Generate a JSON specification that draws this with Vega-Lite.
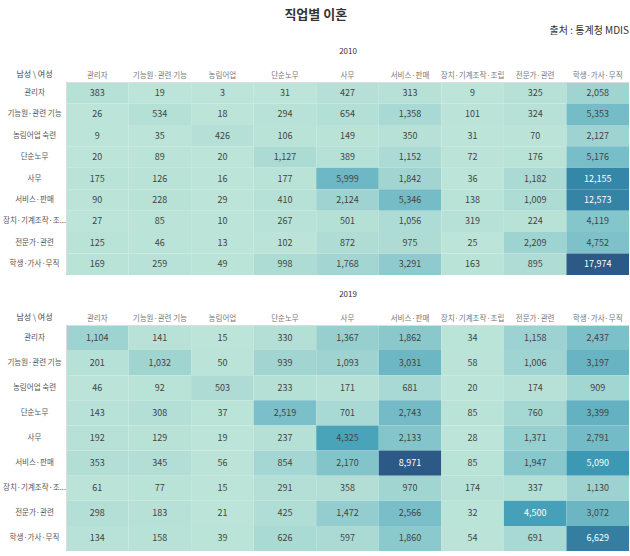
{
  "$schema": "https://vega.github.io/schema/vega-lite/v6.json",
  "padding": {"left": 2, "right": 2, "top": 9, "bottom": 2},
  "background": "#ffffff",
  "config": {
    "font": "Noto Sans CJK KR",
    "view": {"stroke": null},
    "concat": {"spacing": 15}
  },
  "title": {"text": "직업별 이혼", "anchor": "middle", "fontSize": 13, "fontWeight": "bold", "color": "#333333", "font": "Noto Sans CJK KR", "offset": 4},
  "resolve": {"scale": {"color": "independent", "x": "independent", "y": "independent"}},
  "datasets": {
    "d2010": [
      {"male":"관리자","female":"관리자","count":383},{"male":"관리자","female":"기능원·관련 기능","count":19},{"male":"관리자","female":"농림어업","count":3},{"male":"관리자","female":"단순노무","count":31},{"male":"관리자","female":"사무","count":427},{"male":"관리자","female":"서비스·판매","count":313},{"male":"관리자","female":"장치·기계조작·조립","count":9},{"male":"관리자","female":"전문가·관련","count":325},{"male":"관리자","female":"학생·가사·무직","count":2058},
      {"male":"기능원·관련 기능","female":"관리자","count":26},{"male":"기능원·관련 기능","female":"기능원·관련 기능","count":534},{"male":"기능원·관련 기능","female":"농림어업","count":18},{"male":"기능원·관련 기능","female":"단순노무","count":294},{"male":"기능원·관련 기능","female":"사무","count":654},{"male":"기능원·관련 기능","female":"서비스·판매","count":1358},{"male":"기능원·관련 기능","female":"장치·기계조작·조립","count":101},{"male":"기능원·관련 기능","female":"전문가·관련","count":324},{"male":"기능원·관련 기능","female":"학생·가사·무직","count":5353},
      {"male":"농림어업 숙련","female":"관리자","count":9},{"male":"농림어업 숙련","female":"기능원·관련 기능","count":35},{"male":"농림어업 숙련","female":"농림어업","count":426},{"male":"농림어업 숙련","female":"단순노무","count":106},{"male":"농림어업 숙련","female":"사무","count":149},{"male":"농림어업 숙련","female":"서비스·판매","count":350},{"male":"농림어업 숙련","female":"장치·기계조작·조립","count":31},{"male":"농림어업 숙련","female":"전문가·관련","count":70},{"male":"농림어업 숙련","female":"학생·가사·무직","count":2127},
      {"male":"단순노무","female":"관리자","count":20},{"male":"단순노무","female":"기능원·관련 기능","count":89},{"male":"단순노무","female":"농림어업","count":20},{"male":"단순노무","female":"단순노무","count":1127},{"male":"단순노무","female":"사무","count":389},{"male":"단순노무","female":"서비스·판매","count":1152},{"male":"단순노무","female":"장치·기계조작·조립","count":72},{"male":"단순노무","female":"전문가·관련","count":176},{"male":"단순노무","female":"학생·가사·무직","count":5176},
      {"male":"사무","female":"관리자","count":175},{"male":"사무","female":"기능원·관련 기능","count":126},{"male":"사무","female":"농림어업","count":16},{"male":"사무","female":"단순노무","count":177},{"male":"사무","female":"사무","count":5999},{"male":"사무","female":"서비스·판매","count":1842},{"male":"사무","female":"장치·기계조작·조립","count":36},{"male":"사무","female":"전문가·관련","count":1182},{"male":"사무","female":"학생·가사·무직","count":12155},
      {"male":"서비스·판매","female":"관리자","count":90},{"male":"서비스·판매","female":"기능원·관련 기능","count":228},{"male":"서비스·판매","female":"농림어업","count":29},{"male":"서비스·판매","female":"단순노무","count":410},{"male":"서비스·판매","female":"사무","count":2124},{"male":"서비스·판매","female":"서비스·판매","count":5346},{"male":"서비스·판매","female":"장치·기계조작·조립","count":138},{"male":"서비스·판매","female":"전문가·관련","count":1009},{"male":"서비스·판매","female":"학생·가사·무직","count":12573},
      {"male":"장치·기계조작·조립","female":"관리자","count":27},{"male":"장치·기계조작·조립","female":"기능원·관련 기능","count":85},{"male":"장치·기계조작·조립","female":"농림어업","count":10},{"male":"장치·기계조작·조립","female":"단순노무","count":267},{"male":"장치·기계조작·조립","female":"사무","count":501},{"male":"장치·기계조작·조립","female":"서비스·판매","count":1056},{"male":"장치·기계조작·조립","female":"장치·기계조작·조립","count":319},{"male":"장치·기계조작·조립","female":"전문가·관련","count":224},{"male":"장치·기계조작·조립","female":"학생·가사·무직","count":4119},
      {"male":"전문가·관련","female":"관리자","count":125},{"male":"전문가·관련","female":"기능원·관련 기능","count":46},{"male":"전문가·관련","female":"농림어업","count":13},{"male":"전문가·관련","female":"단순노무","count":102},{"male":"전문가·관련","female":"사무","count":872},{"male":"전문가·관련","female":"서비스·판매","count":975},{"male":"전문가·관련","female":"장치·기계조작·조립","count":25},{"male":"전문가·관련","female":"전문가·관련","count":2209},{"male":"전문가·관련","female":"학생·가사·무직","count":4752},
      {"male":"학생·가사·무직","female":"관리자","count":169},{"male":"학생·가사·무직","female":"기능원·관련 기능","count":259},{"male":"학생·가사·무직","female":"농림어업","count":49},{"male":"학생·가사·무직","female":"단순노무","count":998},{"male":"학생·가사·무직","female":"사무","count":1768},{"male":"학생·가사·무직","female":"서비스·판매","count":3291},{"male":"학생·가사·무직","female":"장치·기계조작·조립","count":163},{"male":"학생·가사·무직","female":"전문가·관련","count":895},{"male":"학생·가사·무직","female":"학생·가사·무직","count":17974}
    ],
    "d2019": [
      {"male":"관리자","female":"관리자","count":1104},{"male":"관리자","female":"기능원·관련 기능","count":141},{"male":"관리자","female":"농림어업","count":15},{"male":"관리자","female":"단순노무","count":330},{"male":"관리자","female":"사무","count":1367},{"male":"관리자","female":"서비스·판매","count":1862},{"male":"관리자","female":"장치·기계조작·조립","count":34},{"male":"관리자","female":"전문가·관련","count":1158},{"male":"관리자","female":"학생·가사·무직","count":2437},
      {"male":"기능원·관련 기능","female":"관리자","count":201},{"male":"기능원·관련 기능","female":"기능원·관련 기능","count":1032},{"male":"기능원·관련 기능","female":"농림어업","count":50},{"male":"기능원·관련 기능","female":"단순노무","count":939},{"male":"기능원·관련 기능","female":"사무","count":1093},{"male":"기능원·관련 기능","female":"서비스·판매","count":3031},{"male":"기능원·관련 기능","female":"장치·기계조작·조립","count":58},{"male":"기능원·관련 기능","female":"전문가·관련","count":1006},{"male":"기능원·관련 기능","female":"학생·가사·무직","count":3197},
      {"male":"농림어업 숙련","female":"관리자","count":46},{"male":"농림어업 숙련","female":"기능원·관련 기능","count":92},{"male":"농림어업 숙련","female":"농림어업","count":503},{"male":"농림어업 숙련","female":"단순노무","count":233},{"male":"농림어업 숙련","female":"사무","count":171},{"male":"농림어업 숙련","female":"서비스·판매","count":681},{"male":"농림어업 숙련","female":"장치·기계조작·조립","count":20},{"male":"농림어업 숙련","female":"전문가·관련","count":174},{"male":"농림어업 숙련","female":"학생·가사·무직","count":909},
      {"male":"단순노무","female":"관리자","count":143},{"male":"단순노무","female":"기능원·관련 기능","count":308},{"male":"단순노무","female":"농림어업","count":37},{"male":"단순노무","female":"단순노무","count":2519},{"male":"단순노무","female":"사무","count":701},{"male":"단순노무","female":"서비스·판매","count":2743},{"male":"단순노무","female":"장치·기계조작·조립","count":85},{"male":"단순노무","female":"전문가·관련","count":760},{"male":"단순노무","female":"학생·가사·무직","count":3399},
      {"male":"사무","female":"관리자","count":192},{"male":"사무","female":"기능원·관련 기능","count":129},{"male":"사무","female":"농림어업","count":19},{"male":"사무","female":"단순노무","count":237},{"male":"사무","female":"사무","count":4325},{"male":"사무","female":"서비스·판매","count":2133},{"male":"사무","female":"장치·기계조작·조립","count":28},{"male":"사무","female":"전문가·관련","count":1371},{"male":"사무","female":"학생·가사·무직","count":2791},
      {"male":"서비스·판매","female":"관리자","count":353},{"male":"서비스·판매","female":"기능원·관련 기능","count":345},{"male":"서비스·판매","female":"농림어업","count":56},{"male":"서비스·판매","female":"단순노무","count":854},{"male":"서비스·판매","female":"사무","count":2170},{"male":"서비스·판매","female":"서비스·판매","count":8971},{"male":"서비스·판매","female":"장치·기계조작·조립","count":85},{"male":"서비스·판매","female":"전문가·관련","count":1947},{"male":"서비스·판매","female":"학생·가사·무직","count":5090},
      {"male":"장치·기계조작·조립","female":"관리자","count":61},{"male":"장치·기계조작·조립","female":"기능원·관련 기능","count":77},{"male":"장치·기계조작·조립","female":"농림어업","count":15},{"male":"장치·기계조작·조립","female":"단순노무","count":291},{"male":"장치·기계조작·조립","female":"사무","count":358},{"male":"장치·기계조작·조립","female":"서비스·판매","count":970},{"male":"장치·기계조작·조립","female":"장치·기계조작·조립","count":174},{"male":"장치·기계조작·조립","female":"전문가·관련","count":337},{"male":"장치·기계조작·조립","female":"학생·가사·무직","count":1130},
      {"male":"전문가·관련","female":"관리자","count":298},{"male":"전문가·관련","female":"기능원·관련 기능","count":183},{"male":"전문가·관련","female":"농림어업","count":21},{"male":"전문가·관련","female":"단순노무","count":425},{"male":"전문가·관련","female":"사무","count":1472},{"male":"전문가·관련","female":"서비스·판매","count":2566},{"male":"전문가·관련","female":"장치·기계조작·조립","count":32},{"male":"전문가·관련","female":"전문가·관련","count":4500},{"male":"전문가·관련","female":"학생·가사·무직","count":3072},
      {"male":"학생·가사·무직","female":"관리자","count":134},{"male":"학생·가사·무직","female":"기능원·관련 기능","count":158},{"male":"학생·가사·무직","female":"농림어업","count":39},{"male":"학생·가사·무직","female":"단순노무","count":626},{"male":"학생·가사·무직","female":"사무","count":597},{"male":"학생·가사·무직","female":"서비스·판매","count":1860},{"male":"학생·가사·무직","female":"장치·기계조작·조립","count":54},{"male":"학생·가사·무직","female":"전문가·관련","count":691},{"male":"학생·가사·무직","female":"학생·가사·무직","count":6629}
    ]
  },
  "vconcat": [
    {
      "width": 563,
      "height": 193,
      "data": {"name": "d2010"},
      "title": {"text": "출처 : 통계청 MDIS", "anchor": "end", "fontSize": 10, "fontWeight": "normal", "color": "#333333", "offset": 11},
      "encoding": {
        "x": {"field": "female", "type": "nominal",
          "sort": ["관리자","기능원·관련 기능","농림어업","단순노무","사무","서비스·판매","장치·기계조작·조립","전문가·관련","학생·가사·무직"],
          "scale": {"paddingInner": 0, "paddingOuter": 0},
          "axis": {"orient": "top", "title": "2010", "titleFontSize": 8, "titleFontWeight": "normal", "titleColor": "#333333", "titlePadding": 16,
            "labelAngle": 0, "labelFontSize": 7.5, "labelColor": "#777777", "labelPadding": 3, "ticks": false, "domainColor": "#dddddd", "labelLimit": 70}},
        "y": {"field": "male", "type": "nominal",
          "sort": ["관리자","기능원·관련 기능","농림어업 숙련","단순노무","사무","서비스·판매","장치·기계조작·조립","전문가·관련","학생·가사·무직"],
          "scale": {"paddingInner": 0, "paddingOuter": 0},
          "axis": {"title": "남성 \\ 여성", "titleAngle": 0, "titleX": -32, "titleY": -4, "titleAlign": "center", "titleBaseline": "bottom",
            "titleFontSize": 8, "titleFontWeight": "normal", "titleColor": "#444444",
            "labelExpr": "datum.label == '장치·기계조작·조립' ? '장치·기계조작·조...' : datum.label",
            "labelAlign": "center", "labelPadding": 32, "labelFontSize": 7.5, "labelColor": "#555555", "labelLimit": 80, "ticks": false, "domainColor": "#dddddd"}}
      },
      "layer": [
        {"mark": {"type": "rect"},
         "encoding": {"color": {"field": "count", "type": "quantitative", "legend": null,
           "scale": {"range": ["#bce4d8","#aedcd5","#a1d5d2","#95cecf","#89c8cc","#7ec1ca","#72bac6","#66b2c2","#59acbe","#4ba5ba","#419eb6","#3b96b2","#358ead","#3586a7","#347ea1","#32779b","#316f96","#2f6790","#2d608a","#2c5985"]}}}},
        {"mark": {"type": "text", "fontSize": 9},
         "encoding": {"text": {"field": "count", "type": "quantitative", "format": ","},
           "color": {"condition": {"test": "datum.count > 9000", "value": "#ffffff"}, "value": "#444444"}}}
      ]
    },
    {
      "width": 563,
      "height": 226,
      "data": {"name": "d2019"},
      "encoding": {
        "x": {"field": "female", "type": "nominal",
          "sort": ["관리자","기능원·관련 기능","농림어업","단순노무","사무","서비스·판매","장치·기계조작·조립","전문가·관련","학생·가사·무직"],
          "scale": {"paddingInner": 0, "paddingOuter": 0},
          "axis": {"orient": "top", "title": "2019", "titleFontSize": 8, "titleFontWeight": "normal", "titleColor": "#333333", "titlePadding": 16,
            "labelAngle": 0, "labelFontSize": 7.5, "labelColor": "#777777", "labelPadding": 3, "ticks": false, "domainColor": "#dddddd", "labelLimit": 70}},
        "y": {"field": "male", "type": "nominal",
          "sort": ["관리자","기능원·관련 기능","농림어업 숙련","단순노무","사무","서비스·판매","장치·기계조작·조립","전문가·관련","학생·가사·무직"],
          "scale": {"paddingInner": 0, "paddingOuter": 0},
          "axis": {"title": "남성 \\ 여성", "titleAngle": 0, "titleX": -32, "titleY": -4, "titleAlign": "center", "titleBaseline": "bottom",
            "titleFontSize": 8, "titleFontWeight": "normal", "titleColor": "#444444",
            "labelExpr": "datum.label == '장치·기계조작·조립' ? '장치·기계조작·조...' : datum.label",
            "labelAlign": "center", "labelPadding": 32, "labelFontSize": 7.5, "labelColor": "#555555", "labelLimit": 80, "ticks": false, "domainColor": "#dddddd"}}
      },
      "layer": [
        {"mark": {"type": "rect"},
         "encoding": {"color": {"field": "count", "type": "quantitative", "legend": null,
           "scale": {"range": ["#bce4d8","#aedcd5","#a1d5d2","#95cecf","#89c8cc","#7ec1ca","#72bac6","#66b2c2","#59acbe","#4ba5ba","#419eb6","#3b96b2","#358ead","#3586a7","#347ea1","#32779b","#316f96","#2f6790","#2d608a","#2c5985"]}}}},
        {"mark": {"type": "text", "fontSize": 9},
         "encoding": {"text": {"field": "count", "type": "quantitative", "format": ","},
           "color": {"condition": {"test": "datum.count > 4400", "value": "#ffffff"}, "value": "#444444"}}}
      ]
    }
  ]
}
